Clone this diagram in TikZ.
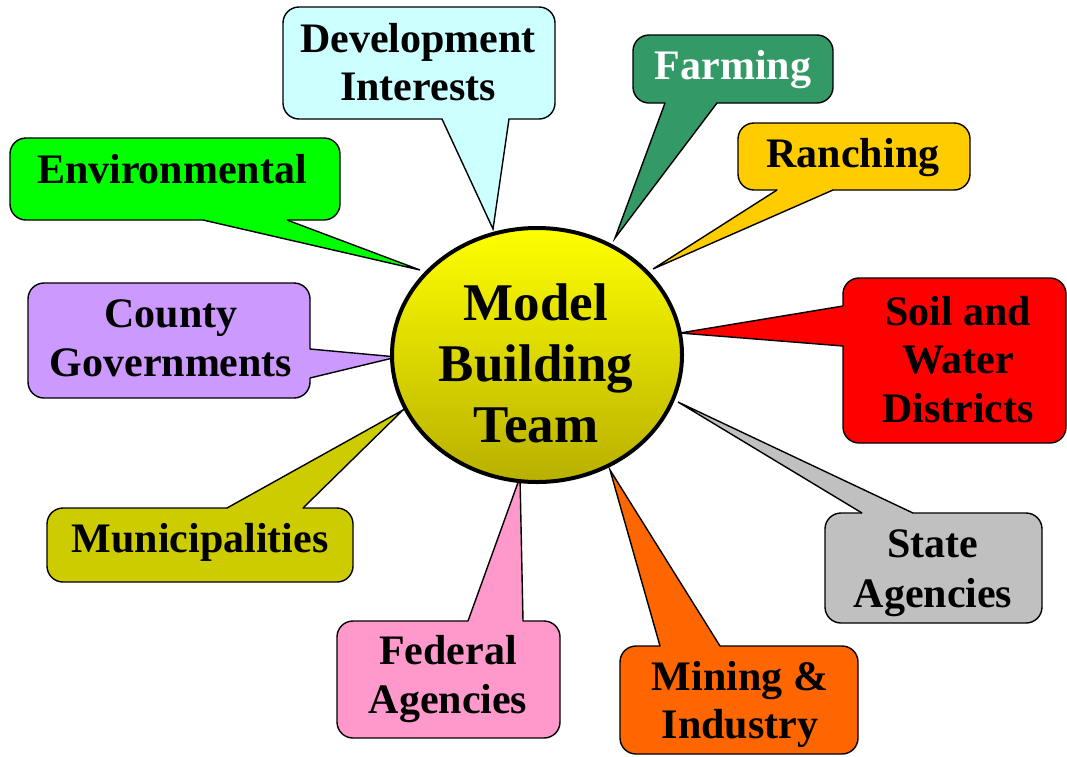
\documentclass[tikz,border=0pt]{standalone}
\usepackage{fontspec}
\setmainfont{Liberation Serif}[BoldFont={Liberation Serif Bold}]
\newfontfamily\tnr{Liberation Serif}[BoldFont={Liberation Serif Bold}]
\usetikzlibrary{shapes.geometric}
\definecolor{devc}{HTML}{CCFFFF}
\definecolor{farmc}{HTML}{339966}
\definecolor{ranchc}{HTML}{FFCC00}
\definecolor{envc}{HTML}{00FF00}
\definecolor{countyc}{HTML}{CC99FF}
\definecolor{soilc}{HTML}{FF0000}
\definecolor{munic}{HTML}{CCCC00}
\definecolor{statec}{HTML}{C0C0C0}
\definecolor{fedc}{HTML}{FF99CC}
\definecolor{minec}{HTML}{FF6600}
\definecolor{teamtop}{HTML}{FFFF00}
\definecolor{teambot}{HTML}{B8B000}
\newcommand\lines[1]{\begin{tabular}[t]{@{}c@{}}#1\end{tabular}}
% #1 colour, #2 box corner, #3 opposite corner, #4 tail base 1, #5 tip, #6 tail base 2, #7 inner point
\newcommand\callout[7]{%
  \filldraw[bubble, fill=#1] (#2) rectangle (#3);
  \fill[#1] (#4) -- (#5) -- (#6) -- (#7) -- cycle;
  \draw[bubbleline] (#4) -- (#5) -- (#6);
}
\tikzset{
  bubble/.style={draw=black, line width=1.4pt, rounded corners=16pt},
  bubbleline/.style={draw=black, line width=1.4pt, line join=miter},
  lbl/.style={anchor=base, inner sep=0pt, font=\tnr\fontsize{42}{48}\selectfont\bfseries},
  teamlbl/.style={anchor=base, inner sep=0pt, font=\tnr\fontsize{53}{61}\selectfont\bfseries},
}
\begin{document}
\begin{tikzpicture}[x=1pt,y=-1pt]
\useasboundingbox (0,0) rectangle (1067,756);
\coordinate (devtip) at (493,229);
\coordinate (farmtip) at (615,238);
\coordinate (ranchtip) at (653,269);
\coordinate (envtip) at (420,270);
\coordinate (countytip) at (397,357);
\coordinate (soiltip) at (680,333);
\coordinate (munitip) at (403,410);
\coordinate (statetip) at (678,402);
\coordinate (fedtip) at (520,477);
\coordinate (minetip) at (610,470);

\callout{devc}{283,7}{555,119}{442,119}{devtip}{509,119}{475,95}
\callout{farmc}{633,35}{833,103}{665,103}{farmtip}{717,103}{691,80}
\callout{ranchc}{738,123}{970,190}{777,190}{ranchtip}{833,190}{805,165}
\callout{envc}{10,138}{340,220}{203,220}{envtip}{287,220}{245,185}
\callout{countyc}{28,283}{310,398}{310,349}{countytip}{310,378}{292,363}
\callout{soilc}{843,278}{1066,443}{843,306}{soiltip}{843,346}{863,326}
\callout{munic}{47,508}{353,582}{227,508}{munitip}{303,508}{265,535}
\callout{statec}{825,513}{1042,623}{862,513}{statetip}{913,513}{887,540}
\callout{fedc}{337,621}{560,738}{468,621}{fedtip}{523,621}{495,648}
\callout{minec}{620,646}{858,754}{660,646}{minetip}{720,646}{690,675}

\node[lbl] (dev) at (418,52) {\lines{Development\\Interests}};
\node[lbl, text=white] (farm) at (733,79) {Farming};
\node[lbl] (ranch) at (853,167) {Ranching};
\node[lbl] (env) at (172,183) {Environmental};
\node[lbl, font=\tnr\fontsize{42}{49}\selectfont\bfseries] (county) at (171,327) {\lines{County\\Governments}};
\node[lbl, font=\tnr\fontsize{42}{48.5}\selectfont\bfseries] (soil) at (958,325) {\lines{Soil and\\Water\\Districts}};
\node[lbl] (muni) at (200,552) {Municipalities};
\node[lbl, font=\tnr\fontsize{42}{50}\selectfont\bfseries] (state) at (933,557) {\lines{State\\Agencies}};
\node[lbl, font=\tnr\fontsize{42}{49}\selectfont\bfseries] (fed) at (448,664) {\lines{Federal\\Agencies}};
\node[lbl] (mine) at (740,690) {\lines{Mining \&\\Industry}};

\node[ellipse, draw=black, line width=4pt, minimum width=290pt, minimum height=254pt,
      top color=teamtop, bottom color=teambot, inner sep=0pt] (team) at (537,355) {};
\node[teamlbl] (teamtext) at (536,320) {\lines{Model\\Building\\Team}};
\end{tikzpicture}
\end{document}
